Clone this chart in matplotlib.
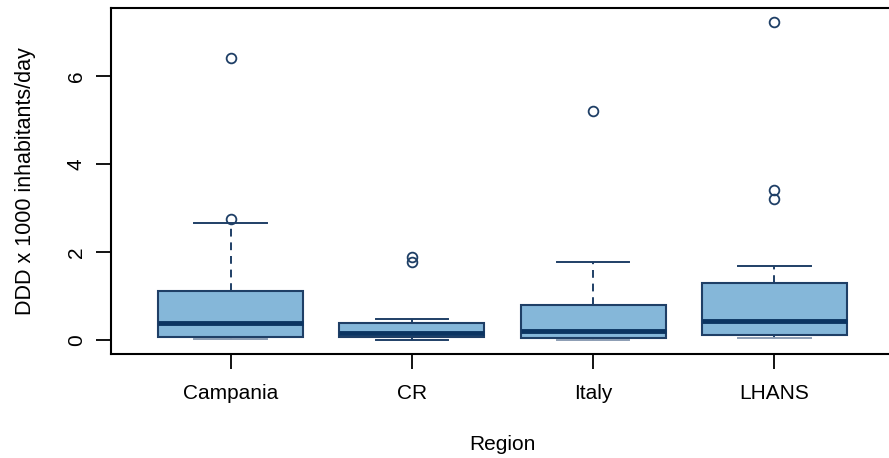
import matplotlib
matplotlib.use('Agg')
import matplotlib.pyplot as plt

plt.rcParams['font.family'] = ['Liberation Sans', 'DejaVu Sans']

regions = ['Campania', 'CR', 'Italy', 'LHANS']
q1 = [0.08, 0.08, 0.06, 0.12]
med = [0.39, 0.16, 0.21, 0.45]
q3 = [1.13, 0.40, 0.80, 1.31]
whislo = [0.02, 0.0, 0.0, 0.06]
whishi = [2.67, 0.49, 1.77, 1.69]
outliers = [[2.75, 6.40], [1.78, 1.90], [5.21], [3.21, 3.40, 7.23]]

edge = '#1f3f66'
fill = '#85b7d9'
median_col = '#0b3461'

stats = []
for i, r in enumerate(regions):
    stats.append({'label': r, 'q1': q1[i], 'med': med[i], 'q3': q3[i],
                  'whislo': whislo[i], 'whishi': whishi[i], 'fliers': outliers[i]})

fig = plt.figure(figsize=(8.89, 4.58), dpi=100)
ax = fig.add_axes([111 / 889, 104 / 458, 783 / 889, 346 / 458])

bp = ax.bxp(stats, widths=0.8, patch_artist=True, showfliers=True,
            boxprops=dict(facecolor=fill, edgecolor=edge, linewidth=1.5),
            medianprops=dict(color=median_col, linewidth=3.5),
            whiskerprops=dict(color=edge, linewidth=1.4, linestyle=(0, (4, 3))),
            capprops=dict(color=edge, linewidth=1.4),
            flierprops=dict(marker='o', markersize=7, markerfacecolor='none',
                            markeredgecolor=edge, markeredgewidth=1.3))

# lower whiskers sit on top of the box bottom and look lighter
for i, cap in enumerate(bp['caps'][0::2]):
    if regions[i] != 'CR':
        cap.set_color('#8c9db3')

ax.set_xlim(0.34, 4.66)
ax.set_ylim(-0.31, 7.54)
ax.set_yticks([0, 2, 4, 6])
ax.set_yticklabels(['0', '2', '4', '6'], rotation=90, va='center')
ax.tick_params(axis='both', labelsize=15, length=11, width=1.3, direction='out')
ax.tick_params(axis='y', pad=7)
ax.tick_params(axis='x', pad=10.5)

for side in ['top', 'bottom', 'left', 'right']:
    ax.spines[side].set_linewidth(1.5)

ax.set_xlabel('Region', fontsize=15, labelpad=23.5)
ax.set_ylabel('DDD x 1000 inhabitants/day', fontsize=15.5, labelpad=22)

fig.savefig('out.png', dpi=100)
